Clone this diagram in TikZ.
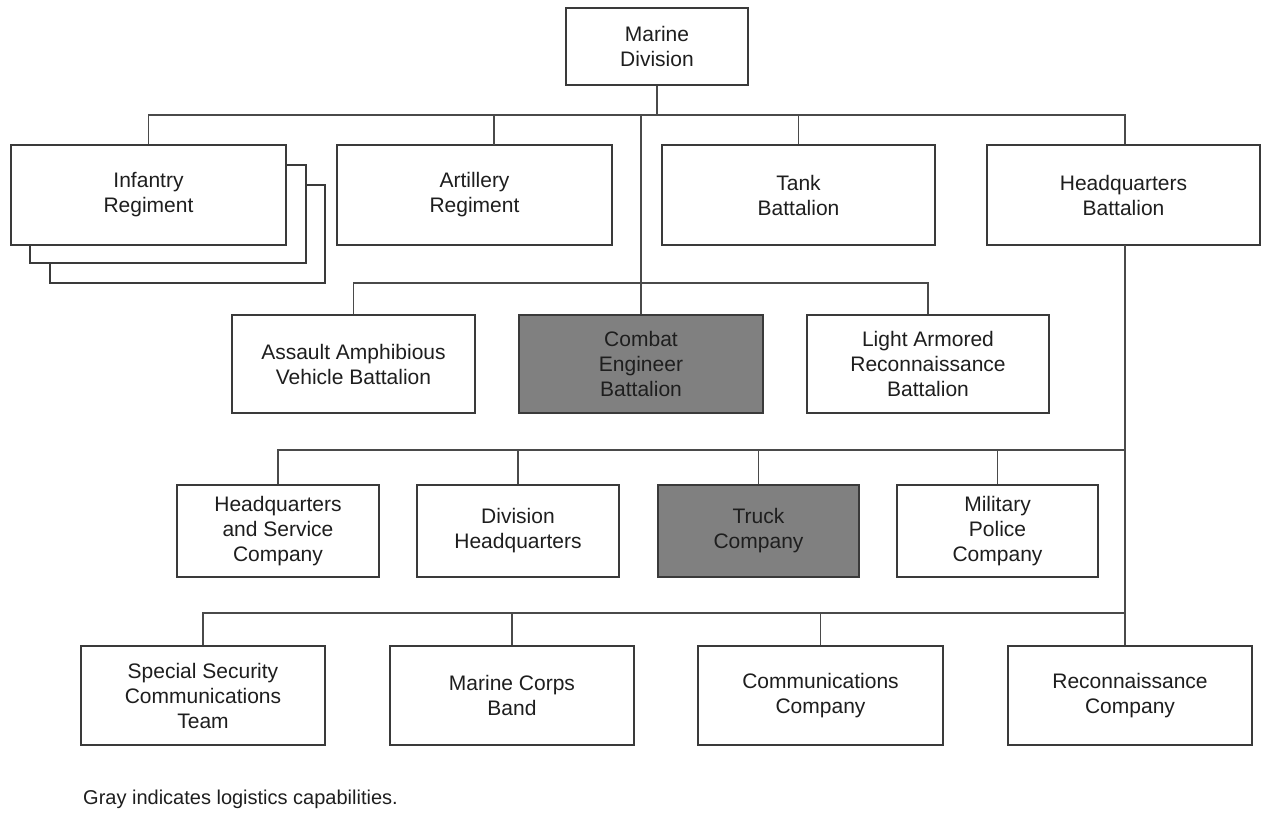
\documentclass[tikz,border=0pt]{standalone}
\usepackage{fontspec}
\setmainfont{Liberation Sans}
\definecolor{boxline}{HTML}{3A3A3A}
\definecolor{connline}{HTML}{4A4A4A}
\definecolor{logi}{HTML}{808080}
\definecolor{txt}{HTML}{1E1E1E}
\begin{document}
\begin{tikzpicture}[x=1pt,y=-1pt,
  ob/.style={draw=boxline, line width=1.6pt, fill=white, rectangle, align=center,
    text=txt, inner sep=0pt, font=\fontsize{21}{25}\selectfont},
  gb/.style={ob, fill=logi},
  conn/.style={draw=connline, line width=1.5pt}]
\useasboundingbox (0,0) rectangle (1263,813);
% top
\node[ob, minimum width=182, minimum height=77] (md) at (657,46.5) {Marine\\Division};
% row 1
\node[ob, minimum width=275, minimum height=98] (inf3) at (187.5,234) {};
\node[ob, minimum width=276, minimum height=98] (inf2) at (168,214) {};
\node[ob, minimum width=275, minimum height=100] (inf) at (148.5,195) {Infantry\\Regiment};
\node[ob, minimum width=275, minimum height=100] (art) at (474.5,195) {Artillery\\Regiment};
\node[ob, minimum width=273, minimum height=100] (tank) at (798.5,195) {Tank\\Battalion};
\node[ob, minimum width=273, minimum height=100] (hq) at (1123.5,195) {Headquarters\\Battalion};
% row 2
\node[ob, minimum width=243, minimum height=98] (aav) at (353.5,364) {Assault Amphibious\\Vehicle Battalion};
\node[gb, minimum width=244, minimum height=98] (ceb) at (641,364) {Combat\\Engineer\\Battalion};
\node[ob, minimum width=242, minimum height=98] (lar) at (928,364) {Light Armored\\Reconnaissance\\Battalion};
% row 3
\node[ob, minimum width=202, minimum height=92] (hqs) at (278,531) {Headquarters\\and Service\\Company};
\node[ob, minimum width=202, minimum height=92] (dhq) at (518,531) {Division\\Headquarters};
\node[gb, minimum width=201, minimum height=92] (truck) at (758.5,531) {Truck\\Company};
\node[ob, minimum width=201, minimum height=92] (mp) at (997.5,531) {Military\\Police\\Company};
% row 4
\node[ob, minimum width=244, minimum height=99] (ssct) at (203,695.5) {Special Security\\Communications\\Team};
\node[ob, minimum width=244, minimum height=99] (mcb) at (512,695.5) {Marine Corps\\Band};
\node[ob, minimum width=245, minimum height=99] (comm) at (820.5,695.5) {Communications\\Company};
\node[ob, minimum width=244, minimum height=99] (recon) at (1130,695.5) {Reconnaissance\\Company};
% caption
\node[anchor=west, inner sep=0pt, text=txt, font=\fontsize{20}{24}\selectfont] (cap) at (83,799) {Gray indicates logistics capabilities.};
% bus coordinates
\coordinate (b1) at (657,115);
\coordinate (b2) at (641,283);
\coordinate (b3) at (1125,450);
\coordinate (b4) at (1125,613);
\coordinate (artc) at (494,145);
\coordinate (hqc) at (1125,245);
% connectors level 1
\draw[conn] (md.south) -- (b1);
\draw[conn] (inf.north) |- (b1) -| (hqc |- hq.north);
\draw[conn] (artc) -- (artc |- b1);
\draw[conn] (tank.north) -- (tank.north |- b1);
% trunk to row 2
\draw[conn] (b2 |- b1) -- (ceb.north);
\draw[conn] (aav.north) |- (b2) -| (lar.north);
% HQ trunk
\draw[conn] (hqc) -- (hqc |- recon.north);
\draw[conn] (hqs.north) |- (b3);
\draw[conn] (dhq.north) -- (dhq.north |- b3);
\draw[conn] (truck.north) -- (truck.north |- b3);
\draw[conn] (mp.north) -- (mp.north |- b3);
\draw[conn] (ssct.north) |- (b4);
\draw[conn] (mcb.north) -- (mcb.north |- b4);
\draw[conn] (comm.north) -- (comm.north |- b4);
\end{tikzpicture}
\end{document}
